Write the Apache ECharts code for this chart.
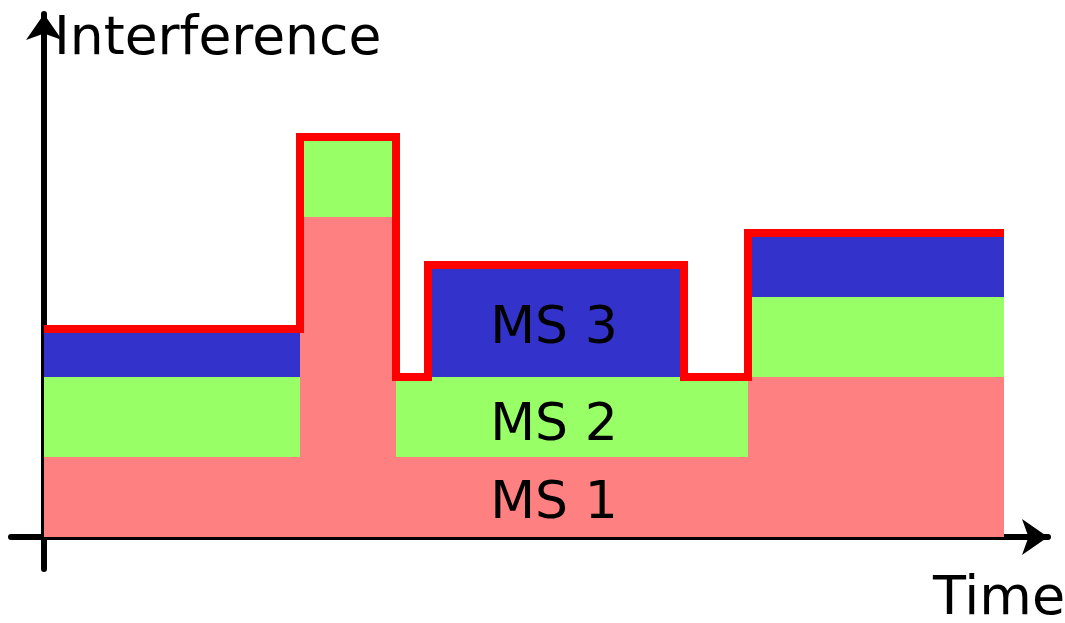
<!DOCTYPE html>
<html>
<head>
<meta charset="utf-8">
<script src="https://cdn.jsdelivr.net/npm/echarts@6/dist/echarts.min.js"></script>
<style>html,body{margin:0;padding:0;background:#fff;}#c{width:1065px;height:623px;}</style>
</head>
<body>
<div id="c"></div>
<script>
// Time segments (start/end) and the interference contributed by each mobile station
var segStart = [0, 8, 11, 12, 20, 22];
var segEnd   = [8, 11, 12, 20, 22, 30];
var ms1 = [1, 4, 1, 1, 1, 2];
var ms2 = [1, 1, 1, 1, 1, 1];
var ms3 = [0.6, 0, 0, 1.4, 0, 0.8];
var seriesNames = ['MS 1', 'MS 2', 'MS 3'];
var seriesColors = ['#ff8080', '#99ff66', '#3333cc'];
var axisTitles = {y: 'Interference', x: 'Time'};

var layers = [ms1, ms2, ms3];
var rects = [];
for (var i = 0; i < segStart.length; i++) {
  var base = 0;
  for (var k = 0; k < layers.length; k++) {
    var v = layers[k][i];
    if (v > 0) rects.push([segStart[i], segEnd[i], base, base + v, k]);
    base += v;
  }
}
var envelope = [];
for (var j = 0; j < segStart.length; j++) {
  var tot = ms1[j] + ms2[j] + ms3[j];
  envelope.push([segStart[j], tot]);
  envelope.push([segEnd[j], tot]);
}

var chart = echarts.init(document.getElementById('c'), null, {renderer: 'canvas'});
var font = '"DejaVu Sans", sans-serif';
chart.setOption({
  animation: false,
  grid: {left: 11, right: 17, top: 14, bottom: 54},
  xAxis: {
    type: 'value', min: -1.03125, max: 31.375,
    splitLine: {show: false}, axisTick: {show: false}, axisLabel: {show: false},
    axisLine: {show: true, onZero: true, symbol: ['none', 'arrow'], symbolSize: [27, 26],
      lineStyle: {color: '#000', width: 6}}
  },
  yAxis: {
    type: 'value', min: -0.4, max: 6.5375,
    splitLine: {show: false}, axisTick: {show: false}, axisLabel: {show: false},
    axisLine: {show: true, onZero: true, symbol: ['none', 'arrow'], symbolSize: [27, 26],
      lineStyle: {color: '#000', width: 6}}
  },
  series: [
    {
      type: 'custom', z: 1,
      data: rects,
      renderItem: function (params, api) {
        var p0 = api.coord([api.value(0), api.value(3)]);
        var p1 = api.coord([api.value(1), api.value(2)]);
        return {
          type: 'rect',
          shape: {x: p0[0], y: p0[1], width: p1[0] - p0[0], height: p1[1] - p0[1]},
          style: {fill: seriesColors[api.value(4)]}
        };
      }
    },
    {
      type: 'line', z: 3, data: envelope, showSymbol: false, symbol: 'none',
      lineStyle: {color: '#ff0000', width: 8, join: 'miter', cap: 'butt'}
    }
  ],
  graphic: [
    {type: 'text', left: 54, top: 13, z: 10, style: {text: axisTitles.y, font: '53.5px ' + font, fill: '#000'}},
    {type: 'text', left: 933, top: 573, z: 10, style: {text: axisTitles.x, font: '54px ' + font, fill: '#000'}},
    {type: 'text', x: 554, y: 329, z: 10, style: {text: seriesNames[2], font: '52px ' + font, fill: '#000', align: 'center', verticalAlign: 'middle'}},
    {type: 'text', x: 554, y: 426, z: 10, style: {text: seriesNames[1], font: '52px ' + font, fill: '#000', align: 'center', verticalAlign: 'middle'}},
    {type: 'text', x: 554, y: 504, z: 10, style: {text: seriesNames[0], font: '52px ' + font, fill: '#000', align: 'center', verticalAlign: 'middle'}}
  ]
});
</script>
</body>
</html>
